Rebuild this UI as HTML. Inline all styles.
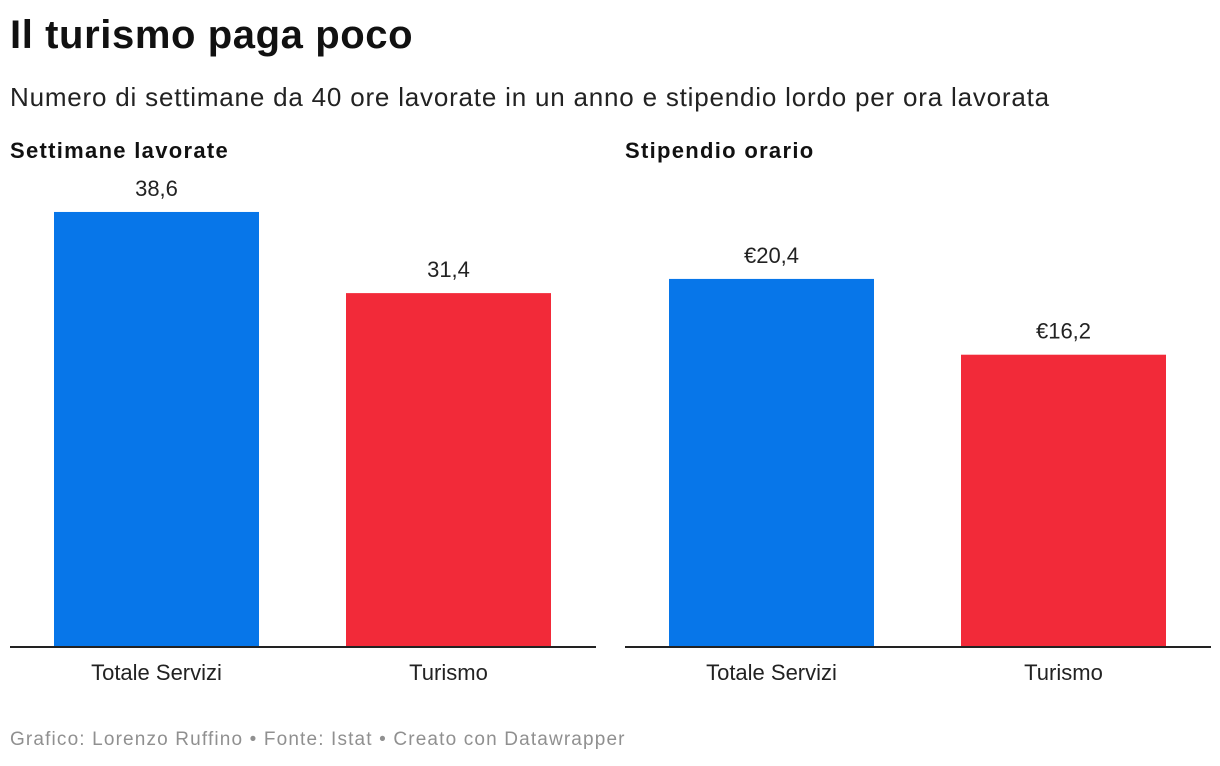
<!DOCTYPE html>
<html><head><meta charset="utf-8"><style>
body{margin:0;width:1220px;height:766px;background:#fff;font-family:"Liberation Sans",sans-serif;color:#1d1d1d;position:relative;overflow:hidden}
.t{position:absolute;white-space:nowrap}
</style></head><body>
<div class="t" style="left:10px;top:13px;font-size:40px;font-weight:bold;color:#111;letter-spacing:0.6px">Il turismo paga poco</div>
<div class="t" style="left:10px;top:82px;font-size:26px;color:#222;letter-spacing:0.8px">Numero di settimane da 40 ore lavorate in un anno e stipendio lordo per ora lavorata</div>
<svg id="c" width="1220" height="766" style="position:absolute;left:0;top:0"></svg>
<div class="t" style="left:10px;top:729px;font-size:19px;color:#909090;letter-spacing:1.15px">Grafico: Lorenzo Ruffino • Fonte: Istat • Creato con Datawrapper</div>
<script>
const categories=["Totale Servizi","Turismo"];
const weeksValues=[38.6,31.4];
const wageValues=[20.4,16.2];
const weeksLabels=["38,6","31,4"];
const wageLabels=["€20,4","€16,2"];
const colors=["#0776e9","#f22a39"];
const svg=document.getElementById('c');
const NS="http://www.w3.org/2000/svg";
function mk(t,a){const e=document.createElementNS(NS,t);for(const k in a)e.setAttribute(k,a[k]);svg.appendChild(e);return e;}
function panel(x0,title,vals,labels,yMax,key){
  const base=647,top=175,w=586;
  const y=v=>base-(v/yMax)*(base-top);
  const tt=mk('text',{x:x0,y:158,'font-size':22,'font-weight':'bold',fill:'#111','font-family':'Liberation Sans, sans-serif','letter-spacing':1.3});
  tt.textContent=title;
  
  
  vals.forEach((v,i)=>{
    const bx=x0+44+i*292;
    const r=mk('rect',{x:bx,y:y(v),width:205,height:base-y(v),fill:colors[i]});
    
    
    const l=mk('text',{x:bx+102.5,y:y(v)-16,'font-size':22,'text-anchor':'middle',fill:'#222','font-family':'Liberation Sans, sans-serif'});
    l.textContent=labels[i];
    
    
    const c=mk('text',{x:bx+102.5,y:680,'font-size':22,'text-anchor':'middle',fill:'#222','font-family':'Liberation Sans, sans-serif'});
    c.textContent=categories[i];
    
    
  });
  const ax=mk('line',{x1:x0,x2:x0+w,y1:base,y2:base,stroke:'#222','stroke-width':2});
  
  
}
panel(10,"Settimane lavorate",weeksValues,weeksLabels,41.88,'weeks');
panel(625,"Stipendio orario",wageValues,wageLabels,26.16,'wage');
</script>
</body></html>
